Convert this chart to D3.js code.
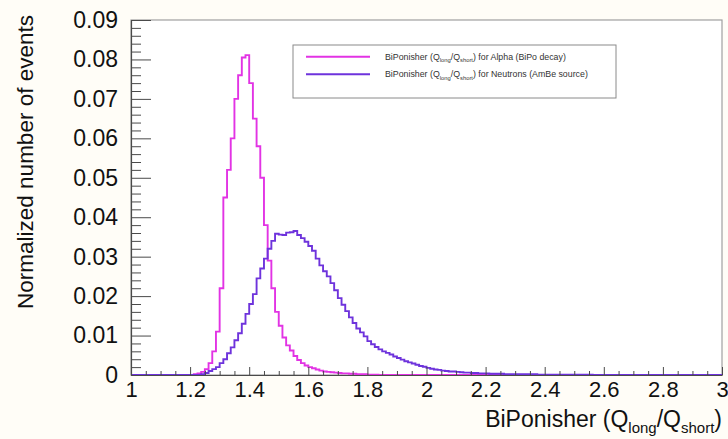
<!DOCTYPE html>
<html>
<head>
<meta charset="utf-8">
<script src="https://cdn.jsdelivr.net/npm/d3@7/dist/d3.min.js"></script>
<style>
  html, body { margin: 0; padding: 0; background: #fffdf7; }
  svg { display: block; }
  text { font-family: "Liberation Sans", Arial, Helvetica, sans-serif; }
</style>
</head>
<body>
<svg id="chart" width="728" height="439"></svg>
<script>
// ---- data ----
const binWidth = 0.0125;          // histogram bin width (x from 1 to 3)
const xRange = [1, 3];
const yRange = [0, 0.09];
const xTickValues = [1, 1.2, 1.4, 1.6, 1.8, 2, 2.2, 2.4, 2.6, 2.8, 3];
const yTickValues = [0, 0.01, 0.02, 0.03, 0.04, 0.05, 0.06, 0.07, 0.08, 0.09];

// Alpha (BiPo decay): bin contents starting at x = 1.2
const alphaStart = 1.2;
const alphaValues = [
  0, 0.0002, 0.0004, 0.0008, 0.0015, 0.003, 0.006, 0.011,
  0.022, 0.045, 0.052, 0.060, 0.070, 0.076, 0.0805, 0.0811,
  0.074, 0.065, 0.058, 0.050, 0.038, 0.029, 0.022, 0.016,
  0.0125, 0.0095, 0.0075, 0.0062, 0.0048, 0.0038, 0.003, 0.0024,
  0.002, 0.0017, 0.0014, 0.0011, 0.0009, 0.0008, 0.0007, 0.0006,
  0.0005, 0.0004, 0.0004, 0.0003, 0.0003, 0.0002, 0.0002, 0.0002,
  0.0001, 0.0001, 0.0001, 0
];

// Neutrons (AmBe source): bin contents starting at x = 1.2375
const neutronStart = 1.2375;
const neutronValues = [
  0.0002, 0.0005, 0.001, 0.0015, 0.002, 0.003, 0.004, 0.0055,
  0.007, 0.0088, 0.0106, 0.013, 0.0155, 0.018, 0.0205, 0.0245,
  0.027, 0.0295, 0.032, 0.034, 0.0358, 0.0356, 0.0355, 0.0361,
  0.0362, 0.0365, 0.0355, 0.0347, 0.0338, 0.0327, 0.0315, 0.0295,
  0.0278, 0.0263, 0.025, 0.0233, 0.0215, 0.0195, 0.0178, 0.0162,
  0.0146, 0.0132, 0.0118, 0.0108, 0.0098, 0.0086, 0.0078, 0.0071,
  0.0065, 0.006, 0.0056, 0.0052, 0.0047, 0.0043, 0.0039, 0.0035,
  0.0032, 0.0029, 0.0026, 0.0023, 0.0021, 0.0018, 0.0016, 0.0014,
  0.0013, 0.0011, 0.0010, 0.0009, 0.0009, 0.0008, 0.0007, 0.0006,
  0.0006, 0.0005, 0.0005, 0.0004, 0.0004, 0.0004, 0.0003, 0.0003,
  0.0003, 0.0003, 0.0002, 0.0002, 0.0002, 0.0002, 0.0002, 0.0002,
  0.0002, 0.0002, 0.0002, 0.0001, 0.0001, 0.0001, 0.0001, 0.0001,
  0.0001, 0.0001, 0.0001, 0.0001, 0.0001, 0.0001, 0.0001, 0.0001,
  0.0001, 0.0001, 0
];

const seriesNames = [
  ["BiPonisher (Q", "long", "/Q", "short", ") for Alpha (BiPo decay)"],
  ["BiPonisher (Q", "long", "/Q", "short", ") for Neutrons (AmBe source)"]
];
const seriesColors = ["#e233e4", "#6e33dc"];

// ---- layout ----
const frame = { left: 131, right: 722, top: 20, bottom: 375 };
const svg = d3.select("#chart");

svg.append("rect").attr("x", frame.left).attr("y", frame.top)
  .attr("width", frame.right - frame.left).attr("height", frame.bottom - frame.top)
  .attr("fill", "#ffffff").attr("stroke", "#a0a0a0").attr("stroke-width", 1.2);

const x = d3.scaleLinear().domain(xRange).range([frame.left, frame.right]);
const y = d3.scaleLinear().domain(yRange).range([frame.bottom, frame.top]);

// build full histograms over [1,3]
const nBins = Math.round((xRange[1] - xRange[0]) / binWidth);
function fullHist(start, vals) {
  const off = Math.round((start - xRange[0]) / binWidth);
  const out = [];
  for (let i = 0; i < nBins; i++) {
    const j = i - off;
    out.push([xRange[0] + i * binWidth, (j >= 0 && j < vals.length) ? vals[j] : 0]);
  }
  out.push([xRange[1], out[out.length - 1][1]]);
  return out;
}
const hists = [fullHist(alphaStart, alphaValues), fullHist(neutronStart, neutronValues)];

const line = d3.line().x(d => x(d[0])).y(d => y(d[1])).curve(d3.curveStepAfter);
hists.forEach((h, i) => {
  svg.append("path").datum(h).attr("d", line)
    .attr("fill", "none").attr("stroke", seriesColors[i])
    .attr("stroke-width", 1.9).attr("stroke-linejoin", "miter");
});

// ---- axes ----
const axisColor = "#4a4a4a";
// y minor ticks
const yMinor = d3.range(0, 0.0901, 0.002).filter(v => Math.abs(v / 0.01 - Math.round(v / 0.01)) > 1e-6);
svg.append("g").attr("transform", `translate(${frame.left},0)`)
  .call(d3.axisLeft(y).tickValues(yMinor).tickSize(-10).tickSizeOuter(0).tickFormat(""))
  .call(g => g.select(".domain").remove())
  .call(g => g.selectAll("line").attr("stroke", axisColor));
const yAxis = svg.append("g").attr("transform", `translate(${frame.left},0)`)
  .call(d3.axisLeft(y).tickValues(yTickValues).tickSize(-20).tickSizeOuter(0).tickPadding(13)
    .tickFormat(d => d === 0 ? "0" : d3.format(".2f")(d)));
yAxis.select(".domain").attr("stroke", axisColor).attr("stroke-width", 1.2);
yAxis.selectAll("line").attr("stroke", axisColor);
yAxis.selectAll("text").attr("font-size", 23).attr("fill", "#111");

// x minor ticks
const xMinor = d3.range(1, 3.0001, 0.05).filter(v => Math.abs(v / 0.2 - Math.round(v / 0.2)) > 1e-6);
svg.append("g").attr("transform", `translate(0,${frame.bottom})`)
  .call(d3.axisBottom(x).tickValues(xMinor).tickSize(-4).tickSizeOuter(0).tickFormat(""))
  .call(g => g.select(".domain").remove())
  .call(g => g.selectAll("line").attr("stroke", axisColor));
const xAxis = svg.append("g").attr("transform", `translate(0,${frame.bottom})`)
  .call(d3.axisBottom(x).tickValues(xTickValues).tickSize(-8).tickSizeOuter(0).tickPadding(6)
    .tickFormat(d => String(d)));
xAxis.select(".domain").attr("stroke", axisColor).attr("stroke-width", 1.2);
xAxis.selectAll("line").attr("stroke", axisColor);
xAxis.selectAll("text").attr("font-size", 22).attr("fill", "#111");

// ---- axis titles ----
const xt = svg.append("text").attr("x", frame.right).attr("y", 427)
  .attr("text-anchor", "end").attr("font-size", 23).attr("fill", "#111");
xt.append("tspan").text("BiPonisher (Q");
xt.append("tspan").attr("font-size", 15).attr("dy", 6).text("long");
xt.append("tspan").attr("dy", -6).text("/Q");
xt.append("tspan").attr("font-size", 15).attr("dy", 6).text("short");
xt.append("tspan").attr("dy", -6).text(")");

svg.append("text").attr("transform", "translate(33,162) rotate(-90)")
  .attr("text-anchor", "middle").attr("font-size", 22.5).attr("fill", "#111")
  .text("Normalized number of events");

// ---- legend ----
const leg = { x: 293, y: 45, w: 323, h: 53 };
svg.append("rect").attr("x", leg.x).attr("y", leg.y).attr("width", leg.w).attr("height", leg.h)
  .attr("fill", "#ffffff").attr("stroke", "#8a8a8a").attr("stroke-width", 1);
const rowY = [56.7, 74.3];
seriesNames.forEach((parts, i) => {
  svg.append("line").attr("x1", 306).attr("x2", 370).attr("y1", rowY[i]).attr("y2", rowY[i])
    .attr("stroke", seriesColors[i]).attr("stroke-width", 1.9);
  const t = svg.append("text").attr("x", 385).attr("y", rowY[i] + 3)
    .attr("font-size", 8.8).attr("fill", "#333");
  t.append("tspan").text(parts[0]);
  t.append("tspan").attr("font-size", 5.8).attr("dy", 2.2).text(parts[1]);
  t.append("tspan").attr("dy", -2.2).text(parts[2]);
  t.append("tspan").attr("font-size", 5.8).attr("dy", 2.2).text(parts[3]);
  t.append("tspan").attr("dy", -2.2).text(parts[4]);
});
</script>
</body>
</html>
